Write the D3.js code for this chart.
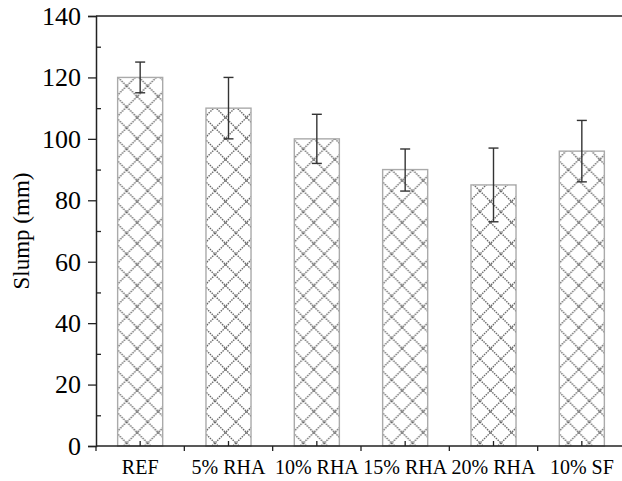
<!DOCTYPE html>
<html>
<head>
<meta charset="utf-8">
<script src="https://cdn.jsdelivr.net/npm/d3@7"></script>
<style>
  body { margin: 0; background: #fff; }
  svg { display: block; font-family: "Liberation Serif", "Times New Roman", serif; }
</style>
</head>
<body>
<svg id="chart" width="622" height="481"></svg>
<script>
const categories = ["REF", "5% RHA", "10% RHA", "15% RHA", "20% RHA", "10% SF"];
const slump = [120, 110, 100, 90, 85, 96];
const errUp = [125, 120, 108, 96.7, 97, 106];
const errDown = [115, 100, 92, 83, 73, 86];
const yMajor = [0, 20, 40, 60, 80, 100, 120, 140];
const yMinor = [10, 30, 50, 70, 90, 110, 130];

const svg = d3.select("#chart");
const WIDTH = 622, LEFT = 96, TOP = 16, BOTTOM = 446;
const P = 21;

const x = d3.scaleBand()
            .domain(categories)
            .range([LEFT, 626])
            .paddingInner(0.49)
            .paddingOuter(0.245);
const y = d3.scaleLinear().domain([0, 140]).range([BOTTOM, TOP]);

// hatch pattern, one per bar so every bar starts the same way
const defs = svg.append("defs");
categories.forEach((c, i) => {
    const pat = defs.append("pattern")
                    .attr("id", "hatch" + i)
                    .attr("patternUnits", "userSpaceOnUse")
                    .attr("width", P)
                    .attr("height", P)
                    .attr("x", x(c) + 9)
                    .attr("y", 2);
    pat.append("rect").attr("width", P).attr("height", P).attr("fill", "#fff");
    pat.append("path")
       .attr("d", `M0,0L${P},${P}M${P},0L0,${P}M${-P/2},${P/2}L0,${P}M${P/2},${-P/2}L${P},0M0,0L${-P/2},${P/2}M${P},${P}L${P*1.5},${P/2}`)
       .attr("stroke", "#666")
       .attr("stroke-width", 1.4)
       .attr("stroke-dasharray", "1.5 1")
       .attr("fill", "none");
});

// bars
svg.selectAll("rect.bar")
   .data(categories)
   .enter()
   .append("rect")
   .attr("class", "bar")
   .attr("x", d => x(d))
   .attr("y", (d, i) => y(slump[i]))
   .attr("width", x.bandwidth())
   .attr("height", (d, i) => BOTTOM - y(slump[i]))
   .attr("fill", (d, i) => "url(#hatch" + i + ")")
   .attr("stroke", "#aaaaaa")
   .attr("stroke-width", 1.4);

// error bars
const cx = d => x(d) + x.bandwidth() / 2;
const eb = svg.append("g").attr("stroke", "#333").attr("stroke-width", 1.4);
categories.forEach((c, i) => {
    eb.append("line").attr("x1", cx(c)).attr("x2", cx(c)).attr("y1", y(errUp[i])).attr("y2", y(errDown[i]));
    eb.append("line").attr("x1", cx(c) - 5).attr("x2", cx(c) + 5).attr("y1", y(errUp[i])).attr("y2", y(errUp[i]));
    eb.append("line").attr("x1", cx(c) - 5).attr("x2", cx(c) + 5).attr("y1", y(errDown[i])).attr("y2", y(errDown[i]));
});

// y axis
const yAxis = svg.append("g")
                 .attr("transform", "translate(" + LEFT + ",0)")
                 .call(d3.axisLeft(y).tickValues(yMajor).tickSize(8).tickPadding(7));
yAxis.attr("font-size", 26).attr("font-family", "Liberation Serif");
yAxis.selectAll("text").attr("font-size", 26).attr("fill", "#000");
svg.append("g")
   .attr("transform", "translate(" + LEFT + ",0)")
   .call(d3.axisRight(y).tickValues(yMinor).tickSize(5).tickFormat(""))
   .call(g => g.select(".domain").remove());

// x axis
const xAxis = svg.append("g")
                 .attr("transform", "translate(0," + BOTTOM + ")")
                 .call(d3.axisBottom(x).tickSizeInner(-5).tickSizeOuter(0).tickPadding(14));
xAxis.attr("font-size", 20).attr("font-family", "Liberation Serif");
xAxis.select(".domain").remove();
xAxis.selectAll("text").attr("font-size", 20).attr("fill", "#000");
const gap = x.step() * x.paddingInner() / 2;
svg.append("g")
   .selectAll("line")
   .data(categories)
   .enter()
   .append("line")
   .attr("x1", d => x(d) - gap)
   .attr("x2", d => x(d) - gap)
   .attr("y1", BOTTOM)
   .attr("y2", BOTTOM + 5)
   .attr("stroke", "#222")
   .attr("stroke-width", 1.3);

svg.selectAll(".tick line").attr("stroke", "#222").attr("stroke-width", 1.3);
svg.selectAll(".domain").attr("stroke", "#222").attr("stroke-width", 1.5);

// frame lines
svg.append("line").attr("x1", LEFT).attr("x2", WIDTH).attr("y1", BOTTOM).attr("y2", BOTTOM)
   .attr("stroke", "#222").attr("stroke-width", 1.5);
svg.append("line").attr("x1", LEFT).attr("x2", WIDTH).attr("y1", TOP).attr("y2", TOP)
   .attr("stroke", "#222").attr("stroke-width", 1.5);

// y label
svg.append("text")
   .attr("transform", "translate(29," + ((TOP + BOTTOM) / 2) + ") rotate(-90)")
   .attr("text-anchor", "middle")
   .attr("font-size", 23)
   .attr("fill", "#000")
   .text("Slump (mm)");
</script>
</body>
</html>
